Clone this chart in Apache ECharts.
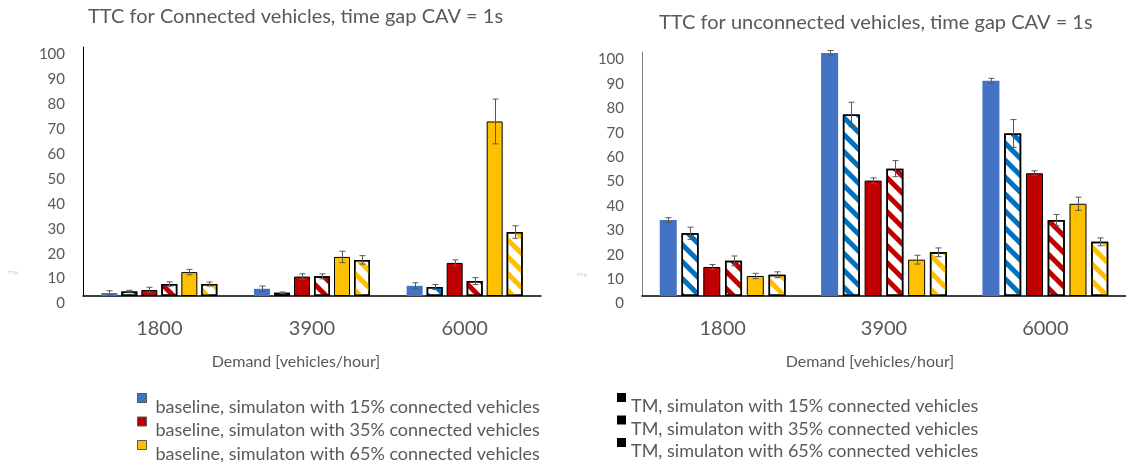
<!DOCTYPE html>
<html><head><meta charset="utf-8">
<script src="https://cdn.jsdelivr.net/npm/echarts@6/dist/echarts.min.js"></script>
<style>html,body{margin:0;padding:0;background:#fff}#c{width:1126px;height:464px}</style>
</head><body><div id="c"></div>
<script>
// ---------- data ----------
const categories = ['1800', '3900', '6000'];
const titleConnected = 'TTC for Connected vehicles, time gap CAV = 1s';
const titleUnconnected = 'TTC for unconnected vehicles, time gap CAV = 1s';
const xAxisTitle = 'Demand [vehicles/hour]';
const seriesNames = [
  'baseline, simulaton with 15% connected vehicles',
  'TM, simulaton with 15% connected vehicles',
  'baseline, simulaton with 35% connected vehicles',
  'TM, simulaton with 35% connected vehicles',
  'baseline, simulaton with 65% connected vehicles',
  'TM, simulaton with 65% connected vehicles'
];
// TTC for connected vehicles (left chart)
const connBase15 = [1.2, 2.9, 4.1];   const connBase15Err = [0.9, 1.1, 1.2];
const connTM15   = [1.8, 1.3, 3.6];   const connTM15Err   = [0.5, 0.3, 1.0];
const connBase35 = [2.4, 7.8, 13.3];  const connBase35Err = [1.1, 1.1, 1.2];
const connTM35   = [4.8, 7.9, 6.0];   const connTM35Err   = [0.9, 1.0, 1.4];
const connBase65 = [9.6, 15.7, 70.1]; const connBase65Err = [1.1, 2.3, 9.0];
const connTM65   = [4.8, 14.5, 25.7]; const connTM65Err   = [0.8, 1.7, 2.5];
// TTC for unconnected vehicles (right chart)
const unBase15 = [31.1, 99.6, 88.2];  const unBase15Err = [1.0, 1.0, 1.0];
const unTM15   = [25.7, 74.4, 66.6];  const unTM15Err   = [2.5, 5.0, 5.7];
const unBase35 = [11.9, 47.3, 50.3];  const unBase35Err = [1.0, 1.1, 1.0];
const unTM35   = [14.4, 52.2, 31.1];  const unTM35Err   = [2.0, 3.3, 2.3];
const unBase65 = [8.2, 14.9, 37.8];   const unBase65Err = [1.1, 1.8, 2.7];
const unTM65   = [8.7, 17.9, 22.2];   const unTM65Err   = [1.2, 1.8, 1.6];
const yMin = 0, yMax = 100, yStep = 10;

// ---------- styles ----------
const FONT = 'Lato';
const TXT = '#595959';
const solidColors = ['#4472C4', '#C00000', '#FFC000'];
const hatchColors = ['#0070C0', '#C00000', '#FFC000'];

function hatch(c) {
  return { symbol: 'rect', symbolSize: 1, color: c, dashArrayX: [1, 0], dashArrayY: [4.5, 7], rotation: Math.PI / 4 };
}
function barStyle(k) {
  const g = Math.floor(k / 2);
  if (k % 2 === 0) {
    if (g === 0) return { color: solidColors[0], borderWidth: 0 };
    return { color: solidColors[g], borderColor: '#000', borderWidth: 1 };
  }
  return { color: '#fff', borderColor: '#000', borderWidth: 1.5, decal: hatch(hatchColors[g]) };
}

function makeBars(gridIdx, vals, barWidth, barGap) {
  return vals.map((v, k) => ({
    type: 'bar', name: seriesNames[k], xAxisIndex: gridIdx, yAxisIndex: gridIdx,
    data: v, barWidth: barWidth, barGap: barGap, itemStyle: barStyle(k),
    emphasis: { disabled: true }, animation: false
  }));
}
function makeErrs(gridIdx, vals, errs, stride) {
  return vals.map((v, k) => ({
    type: 'custom', xAxisIndex: gridIdx, yAxisIndex: gridIdx, z: 10, silent: true, animation: false,
    data: v.map((y, i) => [i, y, errs[k][i]]),
    renderItem: function (params, api) {
      const c = api.value(0), y = api.value(1), e = api.value(2);
      const t = api.coord([c, y + e]), b = api.coord([c, y - e]);
      const x = Math.round(t[0] + (k - 2.5) * stride) + 0.5;
      const st = { stroke: '#595959', lineWidth: 1 };
      return { type: 'group', children: [
        { type: 'line', shape: { x1: x, y1: t[1], x2: x, y2: b[1] }, style: st },
        { type: 'line', shape: { x1: x - 3, y1: t[1], x2: x + 3, y2: t[1] }, style: st },
        { type: 'line', shape: { x1: x - 3, y1: b[1], x2: x + 3, y2: b[1] }, style: st }
      ]};
    }
  }));
}

const connVals = [connBase15, connTM15, connBase35, connTM35, connBase65, connTM65];
const connErrs = [connBase15Err, connTM15Err, connBase35Err, connTM35Err, connBase65Err, connTM65Err];
const unVals = [unBase15, unTM15, unBase35, unTM35, unBase65, unTM65];
const unErrs = [unBase15Err, unTM15Err, unBase35Err, unTM35Err, unBase65Err, unTM65Err];

function xAxis(gridIdx, namePadRight) {
  return {
    type: 'category', gridIndex: gridIdx, data: categories,
    axisLine: { lineStyle: { color: '#000', width: 1.5 } },
    axisTick: { show: false },
    axisLabel: { color: TXT, fontFamily: FONT, fontSize: 20, margin: 23 },
    name: xAxisTitle, nameLocation: 'middle', nameGap: 58,
    nameTextStyle: { color: TXT, fontFamily: FONT, fontSize: 16, padding: [0, namePadRight, 0, 0] }
  };
}
function yAxis(gridIdx, lineColor) {
  return {
    type: 'value', gridIndex: gridIdx, min: yMin, max: yMax, interval: yStep,
    axisLine: { show: true, lineStyle: { color: lineColor, width: 1 } },
    axisTick: { show: false }, splitLine: { show: false },
    axisLabel: { color: TXT, fontFamily: FONT, fontSize: 15, margin: 18, verticalAlign: 'top' }
  };
}
function legendData(names, isTM) {
  return names.map((n, j) => ({
    name: n,
    itemStyle: isTM ? { color: '#000', borderWidth: 0, decal: 'none' }
                    : { color: solidColors[j], borderColor: '#595959', borderWidth: 1, decal: 'none' }
  }));
}
const legendText = { color: TXT, fontFamily: FONT, fontSize: 18 };

const option = {
  backgroundColor: '#fff',
  animation: false,
  textStyle: { fontFamily: FONT },
  title: [
    { text: titleConnected, left: 88, top: 7, padding: 0, textStyle: { color: TXT, fontFamily: FONT, fontSize: 20, fontWeight: 'normal' } },
    { text: titleUnconnected, left: 659, top: 13, padding: 0, textStyle: { color: TXT, fontFamily: FONT, fontSize: 20, fontWeight: 'normal' } }
  ],
  grid: [
    { left: 83, width: 458, top: 47, height: 249 },
    { left: 642, width: 492, top: 52, height: 244 }
  ],
  xAxis: [xAxis(0, 32), xAxis(1, 28)],
  yAxis: [yAxis(0, '#000'), yAxis(1, '#7f7f7f')],
  legend: [
    { left: 137, top: 393, width: 460, height: 120, padding: 0, orient: 'vertical', itemWidth: 13, itemHeight: 27, itemGap: -4.5, selectedMode: false,
      icon: 'path://M0,0L9,0L9,9L0,9Z M13,27L13,27Z', textStyle: legendText,
      data: legendData([seriesNames[0], seriesNames[2], seriesNames[4]], false) },
    { left: 617, top: 393, width: 480, height: 120, padding: 0, orient: 'vertical', itemWidth: 9, itemHeight: 27, itemGap: -4.5, selectedMode: false,
      icon: 'path://M0,0L9,0L9,9L0,9Z M9,27L9,27Z', textStyle: legendText,
      data: legendData([seriesNames[1], seriesNames[3], seriesNames[5]], true) }
  ],
  graphic: [
    { type: 'text', left: 8, top: 272, style: { text: 'TTC [s]', fontSize: 3, fill: '#aaa' } },
    { type: 'text', left: 577, top: 274, style: { text: 'TTC [s]', fontSize: 3, fill: '#aaa' } }
  ],
  series: [].concat(
    makeBars(0, connVals, 16, '25%'),
    makeBars(1, unVals, 17, '28%'),
    makeErrs(0, connVals, connErrs, 20),
    makeErrs(1, unVals, unErrs, 21.76)
  )
};
const chart = echarts.init(document.getElementById('c'), null, { renderer: 'canvas' });
chart.setOption(option);
</script>
</body></html>
